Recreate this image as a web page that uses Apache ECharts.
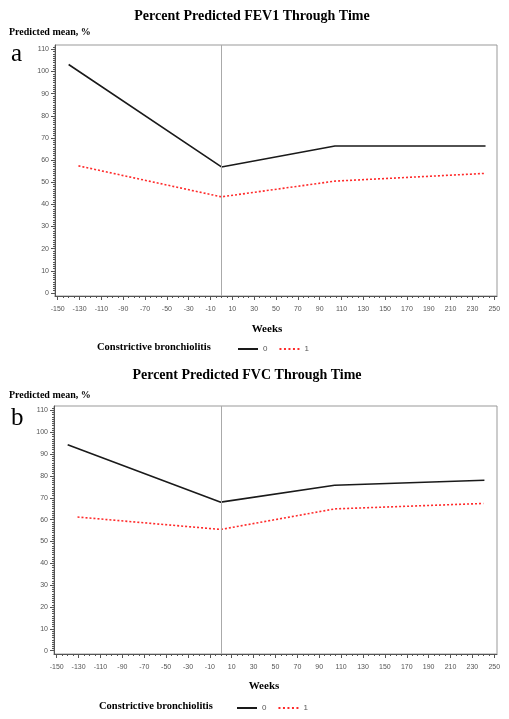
<!DOCTYPE html>
<html>
<head>
<meta charset="utf-8">
<script src="https://cdn.jsdelivr.net/npm/echarts@6/dist/echarts.min.js"></script>
<style>
html,body{margin:0;padding:0;background:#fff;}
#c{width:509px;height:719px;}
</style>
</head>
<body>
<div id="c"></div>
<script>
// ---- data ----
const fevWeeks0 = [-140, 0, 104, 242];
const fevMean0  = [103.2, 56.9, 66.4, 66.4];
const fevWeeks1 = [-131, 0, 104, 242];
const fevMean1  = [57.4, 43.4, 50.5, 54.0];

const fvcWeeks0 = [-140, 0, 104, 241];
const fvcMean0  = [94.3, 68.0, 75.7, 78.0];
const fvcWeeks1 = [-131, 0, 104, 240];
const fvcMean1  = [61.2, 55.5, 64.9, 67.4];

const xTicks = [-150,-130,-110,-90,-70,-50,-30,-10,10,30,50,70,90,110,130,150,170,190,210,230,250];
const yTicks = [0,10,20,30,40,50,60,70,80,90,100,110];
const refWeek = 0;
const groupNames = ['0','1'];

// minor ticks
const xMinor = []; for (let v = -150; v <= 250; v += 5) xMinor.push(v);
const yMinor = []; for (let v = 0; v <= 111; v += 1) yMinor.push(v);

const pair = (xs, ys) => xs.map((x, i) => [x, ys[i]]);

const serifB = "'Liberation Serif','Times New Roman',serif";
const narrow = "'Liberation Sans Narrow','Liberation Sans',Arial,sans-serif";

const grids = [
  {left: 55, top: 45, width: 442, height: 251, show: true, borderColor: '#999', borderWidth: 1},
  {left: 54, top: 406, width: 443, height: 248, show: true, borderColor: '#999', borderWidth: 1}
];

function xAx(gi, minor) {
  return {
    type: 'value', gridIndex: gi, min: -152.5, max: 252.5, position: 'bottom', offset: 0,
    axisLine: {show: !minor, onZero: false, lineStyle: {color: '#555', width: 1}},
    axisTick: {show: true, customValues: minor ? xMinor : xTicks, length: minor ? 2 : 4, lineStyle: {color: '#555'}},
    axisLabel: {show: !minor, customValues: xTicks, margin: 10, fontSize: 7, color: '#555', fontFamily: narrow},
    splitLine: {show: false}
  };
}
function yAx(gi, minor, ymin, ymax) {
  return {
    type: 'value', gridIndex: gi, min: ymin, max: ymax, position: 'left', offset: 0,
    axisLine: {show: !minor, onZero: false, lineStyle: {color: '#555', width: 1}},
    axisTick: {show: true, customValues: minor ? yMinor : yTicks, length: minor ? 2 : 4, lineStyle: {color: '#555'}},
    axisLabel: {show: !minor, customValues: yTicks, margin: 6, fontSize: 7, color: '#555', fontFamily: narrow},
    splitLine: {show: false}
  };
}

const lineBlack = {color: '#1a1a1a', width: 1.6, type: 'solid'};
const lineRed = {color: '#ff2a2a', width: 1.6, type: [2, 2]};
const refLine = {
  silent: true, symbol: 'none', label: {show: false},
  lineStyle: {color: '#aaa', width: 1, type: 'solid'},
  data: [{xAxis: refWeek}]
};

function mkSeries(name, gi, data, style, withRef) {
  const s = {
    name: name, type: 'line', xAxisIndex: gi * 2, yAxisIndex: gi * 2,
    data: data, symbol: 'none', showSymbol: false, lineStyle: style,
    itemStyle: {color: style.color}, animation: false, z: 3
  };
  if (withRef) s.markLine = refLine;
  return s;
}

function txt(x, y, text, font, size, weight, color, align) {
  return {
    type: 'text', x: x, y: y, silent: true,
    style: {text: text, fontFamily: font, fontSize: size, fontWeight: weight || 'normal',
            fill: color || '#000', align: align || 'center', verticalAlign: 'middle'}
  };
}

const solidIcon = 'path://M0,0h20v2h-20z';
const dotIcon = 'path://M0,0h2v2h-2z M4.5,0h2v2h-2z M9,0h2v2h-2z M13.5,0h2v2h-2z M18,0h2v2h-2z';
const legendData = [{name: groupNames[0], icon: solidIcon}, {name: groupNames[1], icon: dotIcon}];

const option = {
  backgroundColor: '#fff',
  animation: false,
  grid: grids,
  xAxis: [xAx(0, false), xAx(0, true), xAx(1, false), xAx(1, true)],
  yAxis: [yAx(0, false, -1.4, 112), yAx(0, true, -1.4, 112), yAx(1, false, -1.5, 112), yAx(1, true, -1.5, 112)],
  legend: [
    {data: legendData, left: 233, top: 340, itemWidth: 20, itemHeight: 2, itemGap: 12,
     textStyle: {fontSize: 8, color: '#555', fontFamily: narrow}, selectedMode: false},
    {data: legendData, left: 232, top: 699, itemWidth: 20, itemHeight: 2, itemGap: 12,
     textStyle: {fontSize: 8, color: '#555', fontFamily: narrow}, selectedMode: false}
  ],
  series: [
    mkSeries(groupNames[0], 0, pair(fevWeeks0, fevMean0), lineBlack, true),
    mkSeries(groupNames[1], 0, pair(fevWeeks1, fevMean1), lineRed, false),
    mkSeries(groupNames[0], 1, pair(fvcWeeks0, fvcMean0), lineBlack, true),
    mkSeries(groupNames[1], 1, pair(fvcWeeks1, fvcMean1), lineRed, false)
  ],
  graphic: [
    txt(252, 16, 'Percent Predicted FEV1 Through Time', serifB, 14, 'bold'),
    txt(9, 32, 'Predicted mean, %', serifB, 10, 'bold', '#000', 'left'),
    txt(11, 54, 'a', serifB, 25, 'normal', '#000', 'left'),
    txt(267, 329, 'Weeks', serifB, 11, 'bold'),
    txt(97, 347, 'Constrictive bronchiolitis', serifB, 10.5, 'bold', '#000', 'left'),

    txt(247, 375, 'Percent Predicted FVC Through Time', serifB, 14, 'bold'),
    txt(9, 395, 'Predicted mean, %', serifB, 10, 'bold', '#000', 'left'),
    txt(11, 418, 'b', serifB, 25, 'normal', '#000', 'left'),
    txt(264, 686, 'Weeks', serifB, 11, 'bold'),
    txt(99, 706, 'Constrictive bronchiolitis', serifB, 10.5, 'bold', '#000', 'left')
  ]
};

const chart = echarts.init(document.getElementById('c'), null, {renderer: 'canvas'});
chart.setOption(option);
</script>
</body>
</html>
